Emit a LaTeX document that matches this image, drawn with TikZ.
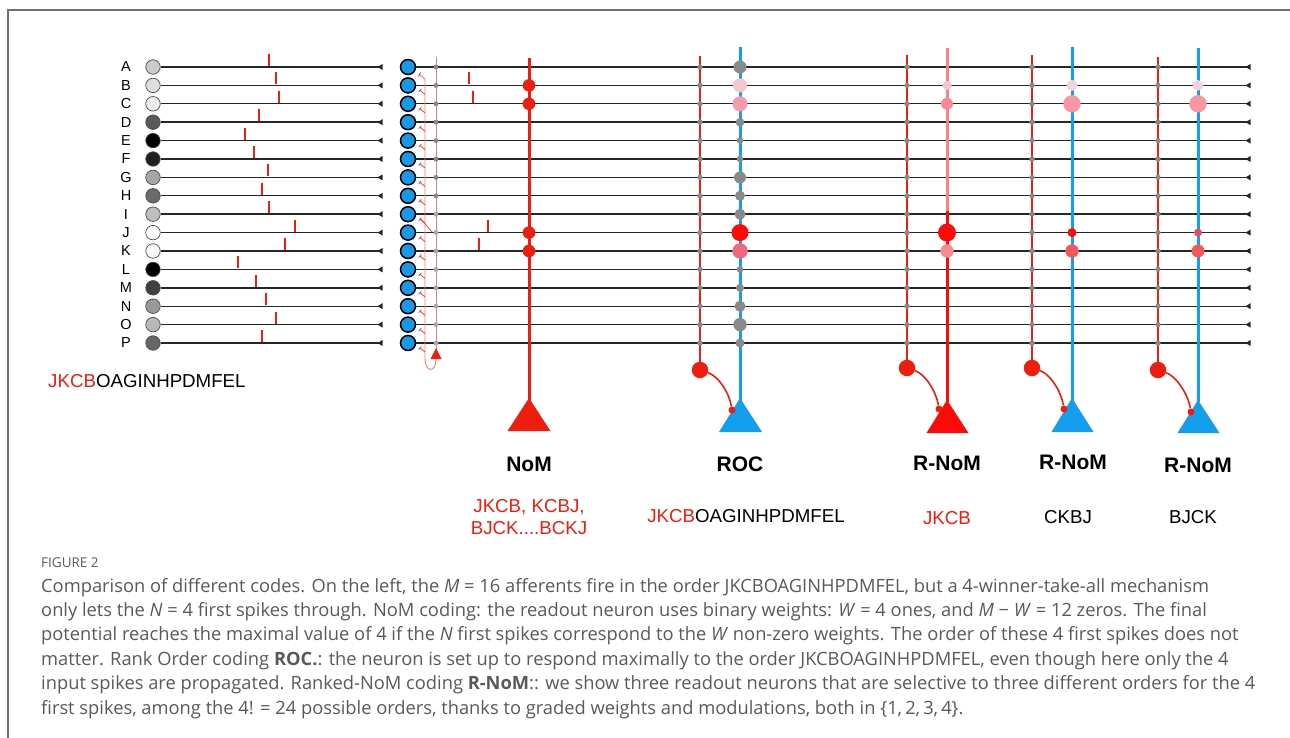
\documentclass[tikz,border=0pt]{standalone}
\usepackage{fontspec}
\setmainfont{Liberation Sans}
\newfontfamily\capfont{Open Sans}
\usetikzlibrary{arrows.meta}

\definecolor{spikered}{HTML}{EE1E0E}
\definecolor{hotred}{HTML}{FF0A0A}
\definecolor{pinkwire}{HTML}{FF7F85}
\definecolor{axonblue}{HTML}{149FEE}
\definecolor{synblue}{HTML}{1A98E8}
\definecolor{dotgray}{HTML}{8A8A8A}
\definecolor{dotlight}{HTML}{A9A9A9}
\definecolor{inhibred}{HTML}{F27A7A}
\definecolor{paleA}{HTML}{F8C6CA}
\definecolor{paleB}{HTML}{F8D0D8}
\definecolor{pinkC}{HTML}{F69AAE}
\definecolor{pinkD}{HTML}{F78A92}
\definecolor{pinkE}{HTML}{F797A4}
\definecolor{rocK}{HTML}{F0687E}
\definecolor{salmon}{HTML}{F45858}
\definecolor{rose}{HTML}{E84860}
\definecolor{captext}{HTML}{595959}
\definecolor{framegray}{HTML}{707070}

\newcommand\ry[1]{(67+(#1-1)*18.4)}

\tikzset{
  wire/.style={draw=black!85, line width=1.4pt},
  afferent/.style={circle, draw=black!70, line width=0.7pt, minimum size=14.5pt, inner sep=0pt},
  relay/.style={circle, draw=black, line width=1.5pt, fill=synblue, minimum size=15pt, inner sep=0pt},
  spike/.style={draw=spikered, line width=1.8pt},
  soma/.style={circle, inner sep=0pt, minimum size=#1},
  rowlabel/.style={font=\fontsize{14.5}{15}\selectfont, inner sep=0pt},
  coltitle/.style={font=\fontsize{21}{24}\selectfont\bfseries, inner sep=0pt},
  codetext/.style={font=\fontsize{18.7}{22}\selectfont, inner sep=0pt},
  capline/.style={font=\capfont\fontsize{18.3}{22}\selectfont, text=captext, inner sep=0pt, anchor=base west},
}

\begin{document}
\begin{tikzpicture}[x=1pt,y=-1pt]
\useasboundingbox (0,0) rectangle (1290,738);
\draw[framegray, line width=1.4pt] (8,738) -- (8,10) -- (1290,10);

% ---- afferents with their spike times ----
\foreach \i/\L/\g/\t in {1/A/80/269, 2/B/87/276, 3/C/93/279, 4/D/35/259,
    5/E/0/245, 6/F/12/254, 7/G/65/268, 8/H/42/262, 9/I/75/269, 10/J/100/295,
    11/K/97/285, 12/L/0/238, 13/M/25/256, 14/N/60/266, 15/O/72/276, 16/P/40/262}{
  \pgfmathsetmacro\y{67+(\i-1)*18.4}
  \node[rowlabel] (lab\L) at (126,\y) {\L};
  \node[afferent, fill=white!\g!black] (aff\L) at (153,\y) {};
  \coordinate (affend\L) at (382,\y);
  \draw[wire] (aff\L) -- (affend\L);
  \fill[black!85] (377.5,\y) -- (382.5,\y-3) -- (382.5,\y+3) -- cycle;
  \draw[spike] (\t,\y-13) -- (\t,\y-1);
  % relay neurons and their output lines
  \node[relay] (rel\L) at (408,\y) {};
  \coordinate (relend\L) at (1250,\y);
  \draw[wire] (rel\L) -- (relend\L);
  \fill[black!85] (1245.5,\y) -- (1250.5,\y-3) -- (1250.5,\y+3) -- cycle;
}

% ---- winner-take-all inhibitory neuron ----
\draw[inhibred, line width=0.9pt] (436,57) -- (436,350);
\foreach \i in {1,...,16}{
  \pgfmathsetmacro\y{67+(\i-1)*18.4}
  \ifnum\i<9 \fill[dotgray] (436,\y) circle[radius=2.5pt];
  \else \fill[dotlight] (436,\y) circle[radius=2.5pt]; \fi
}
\node[soma=1pt] (inhib) at (436,356) {};
\fill[spikered] (436,348) -- (441.5,359) -- (430.5,359) -- cycle;
\draw[inhibred, line width=0.9pt] (436,359) .. controls (436,373) and (425,373) .. (425,358) -- (425,79) -- (419.5,74.5);
\draw[spikered, line width=0.8pt] (418.5,76.5) -- (420.5,72.5);
\foreach \i in {2,...,16}{
  \pgfmathsetmacro\y{67+(\i-1)*18.4}
  \draw[spikered!85, line width=0.8pt] (425,\y+9) -- (420,\y+5);
  \draw[spikered!85, line width=0.8pt] (418.8,\y+6.5) -- (421.2,\y+3.5);
}
\draw[spikered!85, line width=0.8pt] (420,218) -- (432,232);

% ---- spikes passed by the 4-WTA ----
\draw[spike] (469,{\ry{2}-13}) -- (469,{\ry{2}-1});
\draw[spike] (473,{\ry{3}-13}) -- (473,{\ry{3}-1});
\draw[spike] (488,{\ry{10}-13}) -- (488,{\ry{10}-1});
\draw[spike] (479,{\ry{11}-13}) -- (479,{\ry{11}-1});

% ---- NoM readout ----
\draw[spikered, line width=3pt] (529,58) -- (529,402);
\foreach \i in {2,3,10,11}{
  \fill[spikered] (529,{\ry{\i}}) circle[radius=6.3pt];
}
\fill[spikered] (529,398) -- (550.5,431) -- (507.5,431) -- cycle;

% ---- modulating (red) lines with gray synapses ----
\foreach \x/\top in {700/56, 907/55, 1032/55, 1158/57}{
  \draw[spikered, line width=1.3pt] (\x,\top) -- (\x,368);
  \foreach \i in {1,...,16}{
    \fill[dotgray] (\x,{\ry{\i}}) circle[radius=2.7pt];
  }
}

% ---- ROC readout ----
\draw[axonblue, line width=3pt] (740,47) -- (740,402);
\foreach \i/\r/\c in {1/6.5/dotgray, 2/7/paleA, 3/7.5/pinkC, 4/4.3/dotgray,
    5/3.3/dotgray, 6/3.3/dotgray, 7/6/dotgray, 8/5/dotgray, 9/5.5/dotgray,
    10/8.5/hotred, 11/7.7/rocK, 12/3.3/dotgray, 13/4/dotgray, 14/5.5/dotgray,
    15/6.7/dotgray, 16/4.5/dotgray}{
  \fill[\c] (740,{\ry{\i}}) circle[radius=\r pt];
}
\fill[axonblue] (740,398) -- (762,432) -- (719,432) -- cycle;

% ---- R-NoM readouts ----
\draw[pinkwire, line width=3pt] (947,48) -- (947,211);
\draw[hotred, line width=3pt] (947,211) -- (947,402);
\fill[paleA] (947,{\ry{2}}) circle[radius=4.5pt];
\fill[pinkD] (947,{\ry{3}}) circle[radius=6pt];
\fill[hotred] (947,{\ry{10}}) circle[radius=9pt];
\fill[pinkD] (947,{\ry{11}}) circle[radius=6.7pt];
\fill[hotred] (947,400) -- (968.5,433) -- (926.5,433) -- cycle;

\draw[axonblue, line width=3pt] (1072,47) -- (1072,402);
\fill[paleB] (1072,{\ry{2}}) circle[radius=5.5pt];
\fill[pinkE] (1072,{\ry{3}}) circle[radius=8.7pt];
\fill[hotred] (1072,{\ry{10}}) circle[radius=4.5pt];
\fill[salmon] (1072,{\ry{11}}) circle[radius=6.7pt];
\fill[axonblue] (1072,398) -- (1093.5,432) -- (1051.5,432) -- cycle;

\draw[axonblue, line width=3pt] (1198,48) -- (1198,402);
\fill[paleB] (1198,{\ry{2}}) circle[radius=5.3pt];
\fill[pinkE] (1198,{\ry{3}}) circle[radius=8.7pt];
\fill[rose] (1198,{\ry{10}}) circle[radius=4pt];
\fill[salmon] (1198,{\ry{11}}) circle[radius=6.5pt];
\fill[axonblue] (1198,400) -- (1219.5,433) -- (1177.5,433) -- cycle;

% ---- modulation cells and their contacts on the somata ----
\foreach \n/\cx/\cy/\dx/\dy in {roc/700/370/732/410, ra/907/368/939/409,
    rb/1032/368/1064/409, rc/1158/370/1191/412}{
  \node[soma=16.5pt, fill=spikered] (mod\n) at (\cx,\cy) {};
  \node[soma=7pt, fill=spikered] (tip\n) at (\dx,\dy) {};
  \draw[spikered, line width=1.6pt] (mod\n) .. controls (\cx+18,\cy+6) and (\dx-3,\dy-18) .. (tip\n);
}

% ---- labels ----
\node[codetext, anchor=west] (seqleft) at (48,381) {\textcolor{spikered}{JKCB}OAGINHPDMFEL};

\node[coltitle] (tNoM) at (529,464) {NoM};
\node[coltitle] (tROC) at (740,464) {ROC};
\node[coltitle] (tR1) at (947,463) {R-NoM};
\node[coltitle] (tR2) at (1073,462) {R-NoM};
\node[coltitle] (tR3) at (1198,465) {R-NoM};

\node[codetext, text=spikered] (cNoM1) at (529,507) {JKCB, KCBJ,};
\node[codetext, text=spikered] (cNoM2) at (529,528) {BJCK....BCKJ};
\node[codetext] (cROC) at (746,516) {\textcolor{spikered}{JKCB}OAGINHPDMFEL};
\node[codetext, text=spikered] (cR1) at (947,518) {JKCB};
\node[codetext] (cR2) at (1068,517) {CKBJ};
\node[codetext] (cR3) at (1193,517) {BJCK};

% ---- caption ----
\node[font=\capfont\fontsize{13.5}{16}\selectfont, text=captext, inner sep=0pt, anchor=base west] (fig) at (41,567) {FIGURE 2};
\node[capline] (cap1) at (41,592) {Comparison of different codes. On the left, the \textit{M} = 16 afferents fire in the order JKCBOAGINHPDMFEL, but a 4-winner-take-all mechanism};
\node[capline] (cap2) at (41,616.4) {only lets the \textit{N} = 4 first spikes through. NoM coding: the readout neuron uses binary weights: \textit{W} = 4 ones, and \textit{M} \textminus{} \textit{W} = 12 zeros. The final};
\node[capline] (cap3) at (41,640.8) {potential reaches the maximal value of 4 if the \textit{N} first spikes correspond to the \textit{W} non-zero weights. The order of these 4 first spikes does not};
\node[capline] (cap4) at (41,665.2) {matter. Rank Order coding \textbf{ROC.}: the neuron is set up to respond maximally to the order JKCBOAGINHPDMFEL, even though here only the 4};
\node[capline] (cap5) at (41,689.6) {input spikes are propagated. Ranked-NoM coding \textbf{R-NoM}:: we show three readout neurons that are selective to three different orders for the 4};
\node[capline] (cap6) at (41,714) {first spikes, among the 4! = 24 possible orders, thanks to graded weights and modulations, both in \{1,\,2,\,3,\,4\}.};
\end{tikzpicture}
\end{document}
